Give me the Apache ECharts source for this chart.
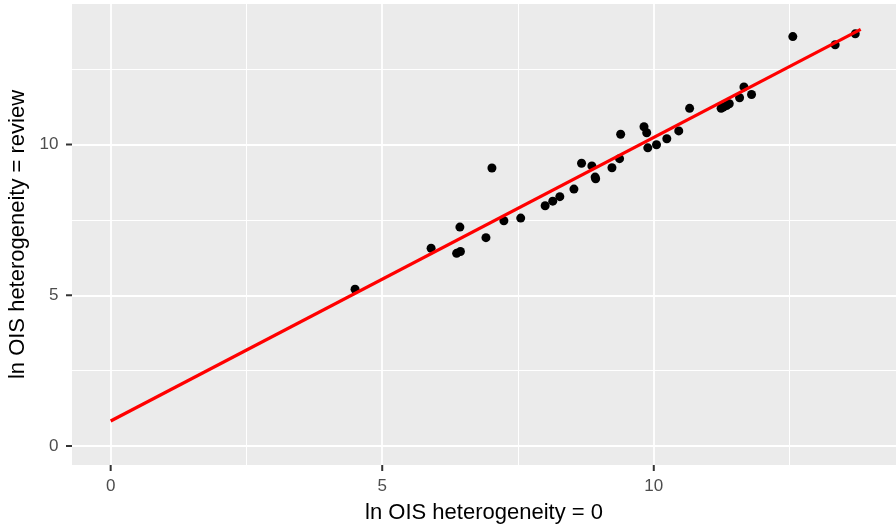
<!DOCTYPE html>
<html>
<head>
<meta charset="utf-8">
<title>ln OIS heterogeneity</title>
<script src="https://cdn.jsdelivr.net/npm/echarts@6/dist/echarts.min.js"></script>
<style>
  html, body { margin: 0; padding: 0; background: #ffffff; }
  #chart { width: 896px; height: 529px; }
</style>
</head>
<body>
<div id="chart"></div>
<script>
// Observed pairs: ln OIS with heterogeneity = 0 (x) vs. heterogeneity = review (y)
const xVals = [4.50, 5.90, 6.43, 6.37, 6.44, 7.02, 6.91, 7.24, 7.55, 8.00,
               8.14, 8.27, 8.53, 8.67, 8.86, 8.92, 8.93, 9.23, 9.37, 9.39,
               9.82, 9.87, 9.89, 10.05, 10.24, 10.46, 10.66, 11.24, 11.28, 11.34,
               11.39, 11.58, 11.66, 11.80, 12.56, 13.34, 13.71];
const yVals = [5.20, 6.56, 7.26, 6.39, 6.45, 9.22, 6.91, 7.47, 7.56, 7.97,
               8.12, 8.27, 8.52, 9.38, 9.29, 8.92, 8.86, 9.23, 9.53, 10.34,
               10.59, 10.39, 9.89, 9.99, 10.19, 10.45, 11.20, 11.20, 11.24, 11.29,
               11.35, 11.55, 11.91, 11.66, 13.58, 13.31, 13.67];

// Fitted line end points
const fitX = [0, 13.81];
const fitY = [0.83, 13.82];

// Axis ticks and grid lines
const xTicks = [0, 5, 10];
const yTicks = [0, 5, 10];
const xMinor = [2.5, 7.5, 12.5];
const yMinor = [2.5, 7.5, 12.5];

// Axis ranges
const xRange = [-0.712, 14.46];
const yRange = [-0.63, 14.66];

const xTitle = 'ln OIS heterogeneity = 0';
const yTitle = 'ln OIS heterogeneity = review';

const FONT = "'Liberation Sans', Arial, Helvetica, sans-serif";
const TICK_LEN = 6;
const TICK_STYLE = { stroke: '#333333', lineWidth: 2 };

const points = xVals.map((x, i) => [x, yVals[i]]);
const fitLine = fitX.map((x, i) => [x, fitY[i]]);

const gridLines = []
  .concat(xMinor.map(v => ({ xAxis: v, lineStyle: { width: 1 } })))
  .concat(yMinor.map(v => ({ yAxis: v, lineStyle: { width: 1 } })))
  .concat(xTicks.map(v => ({ xAxis: v, lineStyle: { width: 1.8 } })))
  .concat(yTicks.map(v => ({ yAxis: v, lineStyle: { width: 1.8 } })));

const chart = echarts.init(document.getElementById('chart'), null, { renderer: 'canvas' });

chart.setOption({
  animation: false,
  backgroundColor: '#ffffff',
  textStyle: { fontFamily: FONT },
  grid: {
    left: 72, right: 0, top: 4, bottom: 64,
    containLabel: false,
    outerBoundsMode: 'none',
    show: true, backgroundColor: '#EBEBEB', borderWidth: 0
  },
  xAxis: {
    type: 'value',
    min: xRange[0], max: xRange[1],
    axisLine: { show: false, onZero: false },
    splitLine: { show: false },
    axisTick: { show: false },
    axisLabel: {
      customValues: xTicks, margin: 13,
      color: '#4D4D4D', fontSize: 17, fontFamily: FONT
    },
    name: xTitle,
    nameLocation: 'middle',
    nameGap: 37,
    nameTextStyle: { color: '#000000', fontSize: 22, fontFamily: FONT }
  },
  yAxis: {
    type: 'value',
    min: yRange[0], max: yRange[1],
    axisLine: { show: false, onZero: false },
    splitLine: { show: false },
    axisTick: { show: false },
    axisLabel: {
      customValues: yTicks, margin: 13.5,
      color: '#4D4D4D', fontSize: 17, fontFamily: FONT
    },
    name: yTitle,
    nameLocation: 'middle',
    nameGap: 43,
    nameTextStyle: { color: '#000000', fontSize: 22, fontFamily: FONT }
  },
  series: [
    {
      // panel grid lines
      type: 'line',
      data: [],
      z: 1,
      silent: true,
      markLine: {
        z: 1,
        silent: true,
        symbol: 'none',
        label: { show: false },
        lineStyle: { color: '#ffffff', type: 'solid' },
        data: gridLines
      }
    },
    {
      type: 'scatter',
      data: points,
      symbolSize: 9,
      itemStyle: { color: '#000000', opacity: 1 },
      z: 3
    },
    {
      type: 'line',
      data: fitLine,
      showSymbol: false,
      symbol: 'none',
      lineStyle: { color: '#FF0000', width: 3.2 },
      z: 4
    }
  ]
});

// Tick marks outside the panel, positioned through the axis scales
const tickGraphics = [];
xTicks.forEach(v => {
  const p = chart.convertToPixel({ xAxisIndex: 0, yAxisIndex: 0 }, [v, yRange[0]]);
  tickGraphics.push({
    type: 'line', silent: true, z: 100, zlevel: 1,
    shape: { x1: p[0], y1: p[1], x2: p[0], y2: p[1] + TICK_LEN },
    style: TICK_STYLE
  });
});
yTicks.forEach(v => {
  const p = chart.convertToPixel({ xAxisIndex: 0, yAxisIndex: 0 }, [xRange[0], v]);
  tickGraphics.push({
    type: 'line', silent: true, z: 100, zlevel: 1,
    shape: { x1: p[0] - TICK_LEN, y1: p[1], x2: p[0], y2: p[1] },
    style: TICK_STYLE
  });
});
chart.setOption({ graphic: { elements: tickGraphics } });
</script>
</body>
</html>
